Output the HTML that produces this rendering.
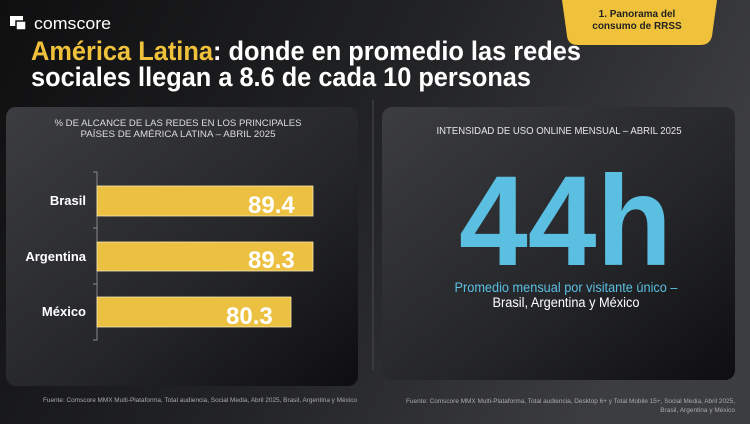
<!DOCTYPE html>
<html><head><meta charset="utf-8"><style>html,body{margin:0;padding:0;background:#1a1a1b}svg{display:block}</style></head>
<body>
<svg width="750" height="424" viewBox="0 0 750 424" xmlns="http://www.w3.org/2000/svg" font-family="Liberation Sans, Arial, sans-serif">
<defs>
<linearGradient id="bg" x1="0" y1="0" x2="1" y2="0.3"><stop offset="0" stop-color="#0f0f10"/><stop offset="0.55" stop-color="#222325"/><stop offset="1" stop-color="#3c3d41"/></linearGradient>
<linearGradient id="pn" x1="0" y1="0" x2="1" y2="1"><stop offset="0" stop-color="#3c3d41"/><stop offset="0.6" stop-color="#242528"/><stop offset="1" stop-color="#0e0e10"/></linearGradient>
</defs>
<rect width="750" height="424" fill="url(#bg)"/>
<!-- logo -->
<rect x="10" y="16" width="13" height="10" fill="#fff"/>
<rect x="16" y="21" width="10" height="9" fill="#fff" stroke="#111" stroke-width="1.5"/>
<text x="34" y="29" font-size="17" fill="#fff" textLength="77" lengthAdjust="spacingAndGlyphs">comscore</text>
<!-- tab -->
<path d="M562 0 H717 L712 36 Q710 45 700 45 H578 Q568 45 567 36 Z" fill="#f0c23b"/>
<text x="637" y="17" font-size="10" font-weight="bold" fill="#222" text-anchor="middle">1. Panorama del</text>
<text x="637" y="29" font-size="10" font-weight="bold" fill="#222" text-anchor="middle">consumo de RRSS</text>
<!-- title -->
<text x="31" y="60" font-size="27" font-weight="bold" fill="#fff" textLength="550" lengthAdjust="spacingAndGlyphs"><tspan fill="#f0c23b">América Latina</tspan>: donde en promedio las redes</text>
<text x="31" y="86" font-size="27" font-weight="bold" fill="#fff" textLength="500" lengthAdjust="spacingAndGlyphs">sociales llegan a 8.6 de cada 10 personas</text>
<!-- divider -->
<line x1="373" y1="100" x2="373" y2="370" stroke="#4a4b4f" stroke-width="1"/>
<!-- left panel -->
<rect x="6" y="107" width="352" height="279" rx="10" fill="url(#pn)"/>
<text x="178" y="126" font-size="9.5" fill="#ddd" text-anchor="middle" textLength="247" lengthAdjust="spacingAndGlyphs">% DE ALCANCE DE LAS REDES EN LOS PRINCIPALES</text>
<text x="178" y="137" font-size="9.5" fill="#ddd" text-anchor="middle" textLength="195" lengthAdjust="spacingAndGlyphs">PAÍSES DE AMÉRICA LATINA – ABRIL 2025</text>
<path d="M93 172 H97 V340 H93 M93 228 H97 M93 284 H97" stroke="#888" fill="none" stroke-width="1"/>
<rect x="97" y="186" width="216" height="30" fill="#ecc142" stroke="#f5e6b0" stroke-width="0.8"/>
<rect x="97" y="242" width="216" height="29" fill="#ecc142" stroke="#f5e6b0" stroke-width="0.8"/>
<rect x="97" y="297" width="194" height="30" fill="#ecc142" stroke="#f5e6b0" stroke-width="0.8"/>
<g font-size="13" font-weight="bold" fill="#fff" text-anchor="end">
<text x="86" y="205">Brasil</text><text x="86" y="261">Argentina</text><text x="86" y="316">México</text></g>
<g font-size="24" font-weight="bold" fill="#fff">
<text x="248" y="213">89.4</text><text x="248" y="268">89.3</text><text x="226" y="324">80.3</text></g>
<text x="200" y="402" font-size="6.5" fill="#aaa" text-anchor="middle" textLength="314" lengthAdjust="spacingAndGlyphs">Fuente: Comscore MMX Multi-Plataforma, Total audiencia, Social Media, Abril 2025, Brasil, Argentina y México</text>
<!-- right panel -->
<rect x="382" y="107" width="353" height="273" rx="10" fill="url(#pn)"/>
<text x="559" y="134" font-size="10.5" fill="#e6e6e6" text-anchor="middle" textLength="245" lengthAdjust="spacingAndGlyphs">INTENSIDAD DE USO ONLINE MENSUAL – ABRIL 2025</text>
<text x="459" y="265" font-size="128" font-weight="bold" fill="#5bbfe2" textLength="213" lengthAdjust="spacingAndGlyphs">44h</text>
<text x="566" y="292" font-size="13.5" fill="#5bbfe2" text-anchor="middle" textLength="223" lengthAdjust="spacingAndGlyphs">Promedio mensual por visitante único –</text>
<text x="566" y="307" font-size="13.5" fill="#fff" text-anchor="middle" textLength="147" lengthAdjust="spacingAndGlyphs">Brasil, Argentina y México</text>
<text x="735" y="403" font-size="6.5" fill="#aaa" text-anchor="end" textLength="329" lengthAdjust="spacingAndGlyphs">Fuente: Comscore MMX Multi-Plataforma, Total audiencia, Desktop 6+ y Total Mobile 15+, Social Media, Abril 2025,</text>
<text x="735" y="412" font-size="6.5" fill="#aaa" text-anchor="end">Brasil, Argentina y México</text>
</svg>
</body></html>
